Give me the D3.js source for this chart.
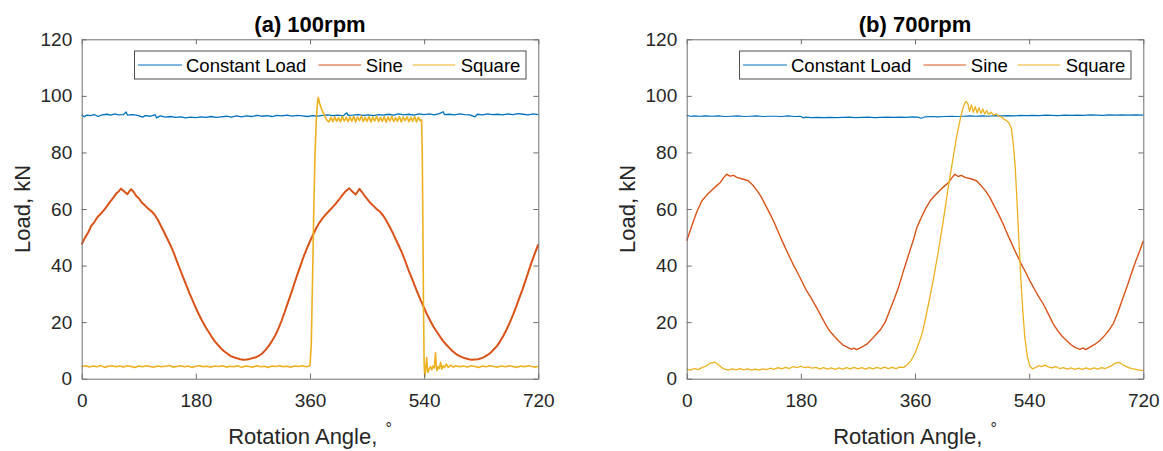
<!DOCTYPE html>
<html lang="en">
<head>
<meta charset="UTF-8">
<title>Load vs Rotation Angle</title>
<script src="https://d3js.org/d3.v7.min.js"></script>
<style>
  body { margin: 0; background: #fff; }
  svg { font-family: "Liberation Sans", Arial, sans-serif; }
  .axis path, .axis line { stroke: #6e6e6e; stroke-width: 1; }
  .axis text { fill: #262626; font-size: 19px; font-family: "Liberation Sans", Arial, sans-serif; }
</style>
</head>
<body>
<svg id="chart" width="1163" height="451"></svg>
<script>
// ---- data ----
const seriesNames = ["Constant Load", "Sine", "Square"];
const seriesColors = ["#0072BD", "#D95319", "#EDB120"];
const xTicks = [0, 180, 360, 540, 720];
const yTicks = [0, 20, 40, 60, 80, 100, 120];
const panelTitles = ["(a) 100rpm", "(b) 700rpm"];

// 100 rpm
const constant100 = [[0,93.3],[4,92.6],[8,93.2],[14,93.0],[20,93.4],[26,92.7],[32,93.3],[40,93.5],[46,93.2],[52,93.6],[58,93.3],[66,93.4],[70,94.3],[72,93.2],[80,93.4],[88,93.1],[96,92.5],[100,93.0],[108,92.8],[116,93.3],[118,92.2],[124,92.9],[132,92.5],[140,92.7],[148,92.4],[156,92.6],[164,92.2],[172,92.5],[180,92.3],[188,92.6],[196,92.4],[204,92.7],[212,92.4],[220,92.6],[228,92.8],[236,92.5],[244,92.9],[252,92.6],[260,92.9],[268,92.7],[276,93.1],[284,92.8],[292,93.0],[300,92.7],[308,93.1],[316,92.9],[324,93.2],[332,92.8],[340,93.1],[348,92.9],[356,92.7],[364,93.0],[372,92.8],[380,93.1],[388,93.3],[396,93.0],[404,93.2],[412,92.9],[418,94.0],[420,93.1],[428,93.2],[436,93.4],[444,93.1],[452,93.3],[460,93.0],[468,93.4],[476,93.2],[484,93.5],[492,93.2],[500,93.6],[508,93.3],[516,93.5],[524,93.2],[532,93.6],[540,93.4],[548,93.6],[556,93.3],[564,93.7],[570,94.4],[572,93.4],[580,93.5],[588,93.3],[596,93.6],[604,93.4],[612,93.3],[620,92.6],[624,93.5],[632,93.3],[640,93.6],[648,93.4],[656,93.5],[664,93.3],[672,93.6],[680,93.4],[688,93.7],[696,93.5],[704,93.3],[712,93.6],[720,93.4]];

const sine100 = [[0,47.5],[5,49.8],[10,51.6],[15,54],[20,55.4],[25,57.2],[30,58.3],[35,59.6],[40,61],[45,62.6],[50,64],[55,65.6],[59,66.4],[62,67.2],[65,66.6],[68,66],[72,65.2],[75,66.2],[78,67],[82,66],[86,64.6],[90,63.8],[95,62.2],[100,61.2],[105,60.1],[110,59.2],[115,58],[120,56.2],[125,54],[130,51.8],[135,49.5],[140,47.2],[145,44.6],[150,41.6],[155,38.7],[160,35.8],[165,33],[170,30.2],[175,27.6],[180,25],[185,22.6],[190,20.4],[195,18.4],[200,16.6],[205,14.8],[210,13.2],[215,11.9],[220,10.6],[225,9.6],[230,8.8],[235,8],[240,7.6],[245,7.2],[250,6.9],[255,6.7],[260,6.8],[265,7],[270,7.3],[275,7.6],[280,8.2],[285,9],[290,10.2],[295,11.6],[300,13.3],[305,15.2],[310,17.6],[315,20.4],[320,23.5],[325,26.8],[330,30],[335,33.4],[340,36.8],[345,40],[350,43.2],[355,46],[360,48.6],[365,51],[370,53.3],[375,55.2],[380,56.8],[385,58.1],[390,59.3],[395,60.5],[400,61.7],[405,63.1],[410,64.6],[415,66],[419,66.8],[422,67.3],[425,66.6],[428,65.9],[432,65.1],[435,66.1],[438,67.1],[442,66],[446,64.7],[450,63.6],[455,62.2],[460,61.1],[465,60],[470,59.1],[475,57.8],[480,56],[485,54],[490,51.8],[495,49.4],[500,47],[505,44.6],[510,41.7],[515,38.6],[520,35.8],[525,33],[530,30.2],[535,27.5],[540,25],[545,22.5],[550,20.3],[555,18.3],[560,16.6],[565,14.9],[570,13.3],[575,12],[580,10.8],[585,9.7],[590,8.8],[595,8.1],[600,7.6],[605,7.2],[610,6.9],[615,6.7],[620,6.8],[625,6.9],[630,7.2],[635,7.7],[640,8.4],[645,9.2],[650,10.4],[655,11.6],[660,13.3],[665,15.2],[670,17.4],[675,19.8],[680,22.5],[685,25.4],[690,28.5],[695,31.5],[700,34.8],[705,38.2],[710,41.5],[715,44.6],[720,47.5]];

const square100 = [[0,4.3],[6,4.6],[12,4.1],[18,4.5],[24,4.2],[30,4.7],[36,4.0],[42,4.4],[48,4.6],[54,4.2],[60,4.5],[66,4.1],[72,4.6],[78,4.3],[84,4.0],[90,4.5],[96,4.2],[102,4.6],[108,4.3],[114,4.1],[120,4.5],[126,4.2],[132,4.4],[138,4.7],[144,4.1],[150,4.3],[156,4.6],[162,4.2],[168,4.5],[174,4.0],[180,4.4],[186,4.6],[192,4.2],[198,4.4],[204,4.1],[210,4.5],[216,4.3],[222,4.6],[228,4.1],[234,4.4],[240,4.2],[246,4.6],[252,4.0],[258,4.5],[264,4.3],[270,4.1],[276,4.6],[282,4.2],[288,4.4],[294,4.0],[300,4.5],[306,4.3],[312,4.6],[318,4.2],[324,4.4],[330,4.1],[336,4.5],[342,4.3],[348,4.6],[354,4.2],[358,4.4],[360,4.7],[362,12],[364,35],[366,60],[368,80],[370,92],[372,98],[373,99.5],[375,97.5],[378,95.5],[381,94],[384,92.5],[387,91.3],[390,90.8],[393,92.4],[396,90.9],[399,92.6],[402,91.0],[405,92.3],[408,90.8],[411,92.7],[414,91.1],[417,92.4],[420,90.9],[423,92.6],[426,91.0],[429,92.8],[432,90.8],[435,92.5],[438,91.2],[441,92.9],[444,90.9],[447,92.4],[450,91.0],[453,92.7],[456,90.8],[459,92.5],[462,91.1],[465,92.8],[468,90.9],[471,92.4],[474,91.0],[477,92.6],[480,90.7],[483,92.5],[486,91.1],[489,92.8],[492,90.9],[495,92.3],[498,91.0],[501,92.7],[504,90.8],[507,92.5],[510,91.2],[513,92.6],[516,90.9],[519,92.4],[522,91.0],[525,92.7],[528,90.8],[531,92.4],[534,91.2],[536,91.5],[537,80],[538,55],[539,25],[540,5],[541,0.8],[542,2.5],[543,5],[544,7.5],[545,4],[546,2.2],[548,3.5],[550,4.3],[552,3.2],[554,4.5],[556,3.8],[558,9.2],[559,5],[560,2.8],[562,4.2],[564,3.6],[566,5.8],[568,3.4],[570,4.6],[572,3.9],[575,5.2],[578,4.0],[582,4.8],[586,4.1],[590,4.6],[596,4.2],[602,4.5],[608,4.1],[614,4.6],[620,4.3],[626,4.0],[632,4.5],[638,4.2],[644,4.6],[650,4.3],[656,4.1],[662,4.5],[668,4.2],[674,4.6],[680,4.3],[686,4.0],[692,4.5],[698,4.2],[704,4.6],[710,4.3],[716,4.1],[720,4.4]];

// 700 rpm
const constant700 = [[0,93.1],[6,92.8],[12,92.9],[20,92.8],[30,92.9],[40,92.8],[50,92.9],[60,92.7],[70,92.8],[80,92.9],[90,92.7],[100,92.8],[110,92.9],[120,92.7],[130,92.8],[140,92.8],[150,92.7],[160,92.9],[170,92.7],[180,92.8],[184,92.2],[188,92.5],[196,92.3],[206,92.4],[216,92.3],[226,92.4],[236,92.3],[246,92.4],[256,92.5],[266,92.3],[276,92.4],[286,92.5],[296,92.3],[306,92.4],[316,92.5],[326,92.4],[336,92.5],[346,92.4],[356,92.6],[364,92.5],[370,92.1],[376,92.6],[386,92.7],[396,92.6],[406,92.7],[416,92.8],[426,92.7],[436,92.8],[446,92.9],[456,92.8],[466,92.9],[476,92.8],[486,93.0],[496,92.9],[506,93.0],[516,92.9],[526,93.1],[536,93.0],[546,93.1],[556,93.0],[566,93.2],[576,93.1],[586,93.0],[596,93.2],[606,93.1],[616,93.2],[626,93.1],[636,93.3],[646,93.2],[656,93.1],[666,93.3],[676,93.2],[686,93.3],[696,93.2],[706,93.3],[720,93.2]];

const sine700 = [[0,48.8],[8,54],[16,59],[24,62.9],[32,65],[39,66.5],[46,68],[53,69.4],[58,71],[63,72.3],[68,71.6],[74,71.9],[79,71.2],[88,70.6],[97,70],[104,68.5],[111,66.5],[118,64.1],[125,61],[132,58],[139,54.7],[146,51],[153,47.5],[160,44.1],[167,40.8],[174,37.8],[181,34.7],[188,31.5],[195,29],[202,26.3],[210,23],[218,19.6],[225,17],[232,15.2],[239,13.5],[246,12],[253,11.2],[260,10.4],[264,10.8],[268,10.3],[276,11.2],[284,12.2],[292,14],[300,16],[306,17.5],[313,20],[320,24],[327,28],[334,32.3],[341,37.5],[347,41.8],[353,46],[358,49.5],[363,53.5],[370,57],[377,60.3],[384,62.9],[391,64.7],[399,66.5],[406,68],[413,69.4],[418,71],[423,72.3],[428,71.5],[433,71.9],[439,71.2],[448,70.7],[457,70],[464,68.3],[471,66.5],[478,64.1],[485,61],[492,58],[499,54.7],[506,51],[513,47.5],[520,44.1],[527,40.8],[534,37.8],[541,34.7],[548,31.8],[555,29],[562,26.5],[570,23],[578,19.4],[585,17],[592,15],[599,13.5],[606,12],[613,11],[620,10.4],[625,10.9],[629,10.3],[636,11.2],[644,12.2],[652,13.6],[660,15.5],[667,17.5],[673,19.6],[680,23.5],[687,28],[694,32.3],[701,37],[708,41.5],[714,45],[720,48.8]];

const square700 = [[0,3.4],[6,3.0],[12,3.6],[18,3.2],[24,3.9],[30,4.4],[36,5.4],[40,5.6],[44,5.9],[48,5.3],[52,4.6],[56,3.8],[60,3.4],[66,3.0],[72,3.5],[78,3.1],[84,3.6],[90,3.1],[96,3.5],[102,3.0],[108,3.4],[114,3.0],[120,3.5],[126,3.2],[132,3.7],[138,3.3],[144,3.9],[150,3.5],[156,4.0],[162,3.6],[168,4.3],[174,3.9],[180,4.4],[186,3.9],[192,4.2],[198,3.7],[204,4.0],[210,3.5],[216,3.9],[222,3.4],[228,3.8],[234,3.3],[240,3.8],[246,3.4],[252,3.9],[258,3.5],[264,4.0],[270,3.5],[276,3.9],[282,3.4],[288,3.9],[294,3.5],[300,4.0],[306,3.6],[312,4.1],[318,3.6],[324,4.0],[330,3.6],[336,4.1],[342,4.0],[348,5.0],[354,6.5],[360,9.0],[366,12.5],[372,16.5],[380,25],[388,34],[396,44],[404,55],[412,67],[420,78],[426,86],[432,92.5],[436,96],[440,98],[443,97.5],[446,94.5],[449,96.8],[452,94.2],[455,96.2],[458,94],[461,95.8],[464,93.8],[467,95.3],[470,93.6],[473,94.8],[476,93.4],[480,94.2],[484,93.2],[488,93.6],[492,92.8],[496,92.6],[500,91.8],[504,91.3],[508,90.5],[512,88.5],[515,83],[518,75],[521,62],[524,48],[527,35],[530,24],[533,15],[537,8],[541,4.5],[545,3.5],[550,3.9],[555,4.6],[560,4.3],[565,4.8],[570,4.2],[576,3.8],[582,4.3],[588,3.6],[594,3.9],[600,3.4],[606,3.8],[612,3.3],[618,3.7],[624,3.3],[630,3.8],[636,3.3],[642,3.8],[648,3.4],[654,3.9],[660,3.6],[666,4.2],[670,4.6],[674,5.3],[678,5.6],[682,5.8],[686,5.2],[690,4.6],[696,4.0],[702,3.6],[708,3.3],[714,3.0],[720,2.9]];

// ---- layout ----
const svg = d3.select("#chart");
const plotTop = 39.3, plotBottom = 378.7, plotW = 456.6;

function drawPanel(left, title, series, widths) {
    const x = d3.scaleLinear().domain([0, 720]).range([left, left + plotW]);
    const y = d3.scaleLinear().domain([0, 120]).range([plotBottom, plotTop]);
    const g = svg.append("g");
    const cx = left + plotW / 2;

    // data lines
    const line = d3.line().x(d => x(d[0])).y(d => y(d[1]));
    series.forEach((s, i) => {
        g.append("path")
            .datum(s)
            .attr("d", line)
            .attr("fill", "none")
            .attr("stroke", seriesColors[i])
            .attr("stroke-width", widths[i])
            .attr("stroke-linejoin", "round");
    });

    // box axes with inward ticks
    g.append("g").attr("class", "axis")
        .attr("transform", `translate(0,${plotBottom})`)
        .call(d3.axisBottom(x).tickValues(xTicks).tickSizeInner(-5).tickSizeOuter(0).tickPadding(15));
    g.append("g").attr("class", "axis")
        .attr("transform", `translate(0,${plotTop})`)
        .call(d3.axisTop(x).tickValues(xTicks).tickSizeInner(-5).tickSizeOuter(0).tickFormat(""));
    g.append("g").attr("class", "axis")
        .attr("transform", `translate(${left},0)`)
        .call(d3.axisLeft(y).tickValues(yTicks).tickSizeInner(-5).tickSizeOuter(0).tickPadding(9.5));
    g.append("g").attr("class", "axis")
        .attr("transform", `translate(${left + plotW},0)`)
        .call(d3.axisRight(y).tickValues(yTicks).tickSizeInner(-5).tickSizeOuter(0).tickFormat(""));
    g.selectAll(".axis text").attr("font-size", 19);

    // title
    g.append("text")
        .attr("x", cx).attr("y", 31.5)
        .attr("text-anchor", "middle")
        .attr("font-size", 22).attr("font-weight", "bold")
        .attr("fill", "#000")
        .text(title);

    // axis labels
    const xl = g.append("text")
        .attr("x", cx).attr("y", 444)
        .attr("text-anchor", "middle")
        .attr("font-size", 22).attr("fill", "#262626");
    xl.append("tspan").text("Rotation Angle, ");
    xl.append("tspan").attr("dx", 2).attr("dy", -10).attr("font-size", 16).text("\u00b0");

    g.append("text")
        .attr("transform", `translate(${left - 52},${(plotTop + plotBottom) / 2}) rotate(-90)`)
        .attr("text-anchor", "middle")
        .attr("font-size", 22).attr("fill", "#262626")
        .text("Load, kN");

    // legend
    const lx = left + 52.8, ly = 51;
    const lg = g.append("g").attr("transform", `translate(${lx},${ly})`);
    lg.append("rect")
        .attr("width", 391.5).attr("height", 28)
        .attr("fill", "#fff").attr("stroke", "#4d4d4d").attr("stroke-width", 1);
    const items = [[3.5, 47.5, 51.5], [184, 226.5, 231.3], [278.2, 320.7, 326.2]];
    items.forEach((it, i) => {
        lg.append("line")
            .attr("x1", it[0]).attr("x2", it[1])
            .attr("y1", 14).attr("y2", 14)
            .attr("stroke", seriesColors[i]).attr("stroke-width", 1.2);
        lg.append("text")
            .attr("x", it[2]).attr("y", 20.5)
            .attr("font-size", 18.5).attr("fill", "#000")
            .text(seriesNames[i]);
    });
}

drawPanel(81.7, panelTitles[0], [constant100, sine100, square100], [1.3, 2, 1.6]);
drawPanel(686.7, panelTitles[1], [constant700, sine700, square700], [1.2, 1.4, 1.3]);
</script>
</body>
</html>
